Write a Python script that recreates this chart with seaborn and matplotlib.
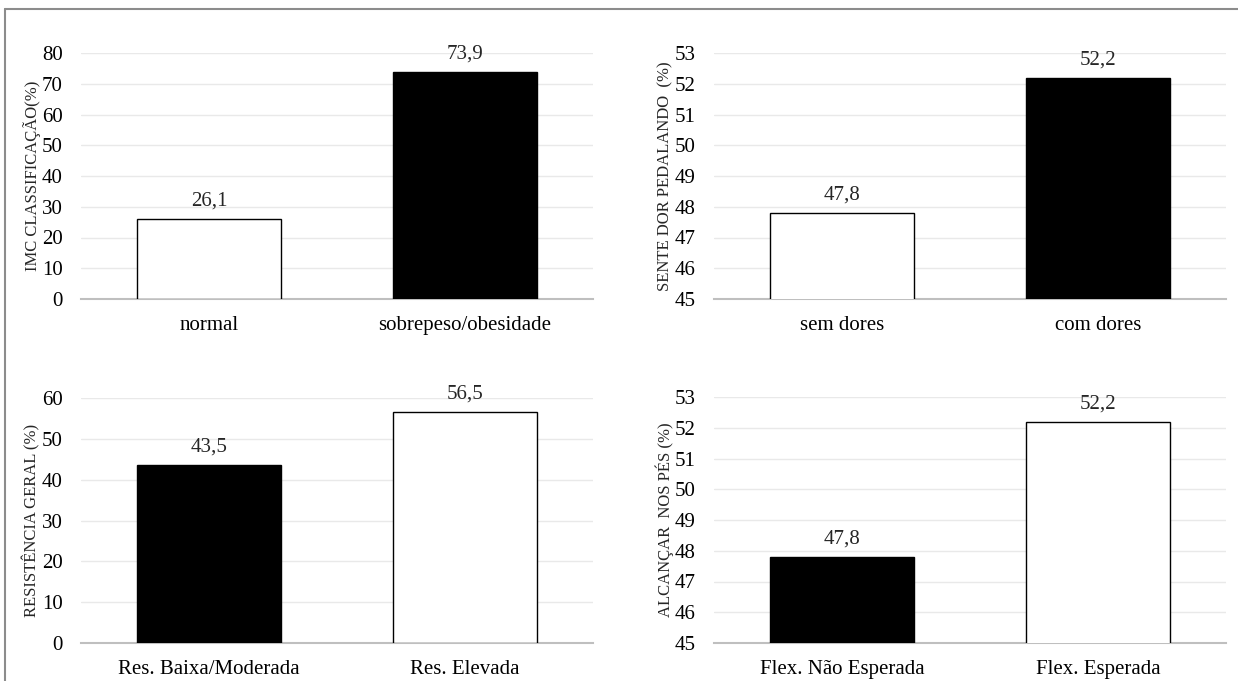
import matplotlib
matplotlib.use("Agg")
import matplotlib.pyplot as plt
import seaborn as sns
from matplotlib.lines import Line2D

# Data
imc_cats = ["normal", "sobrepeso/obesidade"]
imc_vals = [26.1, 73.9]

dor_cats = ["sem dores", "com dores"]
dor_vals = [47.8, 52.2]

res_cats = ["Res. Baixa/Moderada", "Res. Elevada"]
res_vals = [43.5, 56.5]

flex_cats = ["Flex. Não Esperada", "Flex. Esperada"]
flex_vals = [47.8, 52.2]

sns.set_style("white")
plt.rcParams['font.family'] = ['Liberation Serif', 'DejaVu Serif']

fig = plt.figure(figsize=(12.38, 6.81), dpi=100)

W, H = 1238, 681

def axes_px(x0, x1, ytop, ybot):
    return fig.add_axes([x0 / W, (H - ybot) / H, (x1 - x0) / W, (ybot - ytop) / H])

panels = [
    (axes_px(81, 593, 53, 299), imc_cats, imc_vals, ["white", "black"], (0, 80), 10, "IMC CLASSIFICAÇÃO(%)"),
    (axes_px(714, 1226, 53, 299), dor_cats, dor_vals, ["white", "black"], (45, 53), 1, "SENTE DOR PEDALANDO  (%)"),
    (axes_px(81, 593, 398, 643), res_cats, res_vals, ["black", "white"], (0, 60), 10, "RESISTÊNCIA GERAL (%)"),
    (axes_px(714, 1226, 397, 643), flex_cats, flex_vals, ["black", "white"], (45, 53), 1, "ALCANÇAR  NOS PÉS (%)"),
]

for ax, cats, vals, colors, ylim, step, ylabel in panels:
    sns.barplot(x=cats, y=vals, hue=cats, palette=colors, legend=False,
                width=0.56, edgecolor="black", linewidth=1.0, ax=ax, zorder=3)
    ax.set_ylim(*ylim)
    ax.set_yticks(range(ylim[0], ylim[1] + 1, step))
    ax.yaxis.grid(True, color="#e9e9e9", linewidth=1.0, zorder=0)
    ax.set_axisbelow(True)
    for s in ["top", "right", "left"]:
        ax.spines[s].set_visible(False)
    ax.spines["bottom"].set_color("#bfbfbf")
    ax.spines["bottom"].set_linewidth(1.5)
    ax.tick_params(axis="both", length=0, labelsize=15, colors="black")
    ax.tick_params(axis="y", pad=13)
    ax.tick_params(axis="x", pad=12)
    ax.set_ylabel(ylabel, fontsize=12, labelpad=1)
    ax.set_xlabel("")
    for c in ax.containers:
        ax.bar_label(c, labels=[f"{v:.1f}".replace(".", ",") for v in c.datavalues],
                     padding=6, fontsize=15)

# outer frame (top and left visible)
fig.add_artist(Line2D([5 / W, 1], [1 - 9 / H, 1 - 9 / H], color="#8c8c8c", linewidth=1.5))
fig.add_artist(Line2D([5 / W, 5 / W], [0, 1 - 9 / H], color="#8c8c8c", linewidth=1.5))

fig.savefig("out.png", dpi=100)
